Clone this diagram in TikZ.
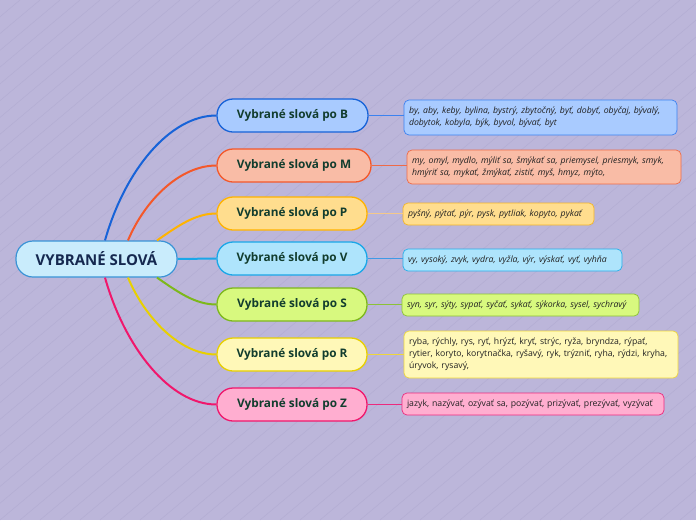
\documentclass[tikz,border=0pt]{standalone}
\usepackage{fontspec}
\setmainfont{Open Sans}
\begin{document}
\begin{tikzpicture}[x=1pt,y=-1pt,
  central/.style={draw=cBorder,fill=cFill,line width=1.2pt,rounded corners=17pt,
    minimum width=161pt,minimum height=36pt,inner sep=0pt,
    font=\fontsize{15}{18}\selectfont\bfseries,text=cText},
  branch/.style={line width=1.3pt,rounded corners=16pt,minimum height=33pt,inner sep=0pt,
    font=\fontsize{11.8}{14}\selectfont\bfseries,text=bText},
  leaf/.style={line width=0.7pt,rounded corners=5pt,inner xsep=5pt,inner ysep=0pt,
    align=left,text=lText},
  itf/.style={font=\fontsize{8.7}{12.2}\selectfont\itshape},
  upf/.style={font=\fontsize{8.7}{12.2}\selectfont},
  conn/.style={line width=2pt},
  lconn/.style={line width=1pt}
]
\definecolor{bg}{HTML}{BCB6DA}
\definecolor{hatch}{HTML}{B3ADD3}
\definecolor{cFill}{HTML}{C9ECFC}
\definecolor{cBorder}{HTML}{3A93D6}
\definecolor{cText}{HTML}{15284F}
\definecolor{bText}{HTML}{123D2E}
\definecolor{lText}{HTML}{222222}
\definecolor{bL}{HTML}{1763D8}\definecolor{bF}{HTML}{A9CBFF}\definecolor{bB}{HTML}{3C82F0}
\definecolor{mL}{HTML}{F4582A}\definecolor{mF}{HTML}{F9BCA6}\definecolor{mB}{HTML}{EE6A48}
\definecolor{pL}{HTML}{FFB300}\definecolor{pF}{HTML}{FFDD8E}\definecolor{pB}{HTML}{F2B52A}\definecolor{pC}{HTML}{F4C88A}
\definecolor{vL}{HTML}{1AA7E8}\definecolor{vF}{HTML}{AEE4FC}\definecolor{vB}{HTML}{25AEEA}\definecolor{vC}{HTML}{3F9AE6}
\definecolor{sL}{HTML}{7DB81B}\definecolor{sF}{HTML}{D8F97F}\definecolor{sB}{HTML}{8CC236}
\definecolor{rL}{HTML}{E8D000}\definecolor{rF}{HTML}{FFF8B8}\definecolor{rB}{HTML}{EED63A}
\definecolor{zL}{HTML}{F0176C}\definecolor{zF}{HTML}{FFAED0}\definecolor{zB}{HTML}{EC2A7E}

\useasboundingbox (0,0) rectangle (696,520);
\fill[bg] (0,0) rectangle (696,520);
\begin{scope}
\clip (0,0) rectangle (696,520);
\foreach \i in {-32,...,36} {
  \draw[hatch,line width=0.5pt] (\i*20,520) -- (\i*20+620,0);
}
\end{scope}

% central
\node[central] (c) at (96.5,259) {VYBRANÉ SLOVÁ};

% branches
\node[branch,draw=bL,fill=bF,minimum width=151pt] (b) at (292.5,115.5) {Vybrané slová po B};
\node[branch,draw=mL,fill=mF,minimum width=154pt] (m) at (294,165.5) {Vybrané slová po M};
\node[branch,draw=pL,fill=pF,minimum width=150pt] (p) at (292,213.5) {Vybrané slová po P};
\node[branch,draw=vL,fill=vF,minimum width=150pt] (v) at (292,258.5) {Vybrané slová po V};
\node[branch,draw=sL,fill=sF,minimum width=150pt] (s) at (292,304.5) {Vybrané slová po S};
\node[branch,draw=rL,fill=rF,minimum width=150pt] (r) at (292,354.5) {Vybrané slová po R};
\node[branch,draw=zL,fill=zF,minimum width=150pt] (z) at (292,404.5) {Vybrané slová po Z};

% leaves
\node[leaf,itf,draw=bB,fill=bF,text width=263pt,minimum height=35pt] (bl) at (540.5,117.5)
  {by, aby, keby, bylina, bystrý, zbytočný, byť, dobyť, obyčaj, bývalý,\\dobytok, kobyla, býk, byvol, bývať, byt};
\node[leaf,itf,draw=mB,fill=mF,text width=264pt,minimum height=34pt] (ml) at (544,167)
  {my, omyl, mydlo, mýliť sa, šmýkať sa, priemysel, priesmyk, smyk,\\hmýriť sa, mykať, žmýkať, zistiť, myš, hmyz, mýto,};
\node[leaf,itf,draw=pB,fill=pF,text width=181pt,minimum height=22pt] (pl) at (498.5,214)
  {pyšný, pýtať, pýr, pysk, pytliak, kopyto, pykať};
\node[leaf,itf,draw=vB,fill=vF,text width=209pt,minimum height=22pt] (vl) at (512.5,260)
  {vy, vysoký, zvyk, vydra, vyžla, výr, výskať, vyť, vyhňa};
\node[leaf,itf,draw=sB,fill=sF,text width=227pt,minimum height=22pt] (sl) at (520.5,305)
  {syn, syr, sýty, sypať, syčať, sykať, sýkorka, sysel, sychravý};
\node[leaf,upf,draw=rB,fill=rF,text width=264pt,minimum height=47pt] (rl) at (541,354.5)
  {ryba, rýchly, rys, ryť, hrýzť, kryť, strýc, ryža, bryndza, rýpať,\\rytier, koryto, korytnačka, ryšavý, ryk, trýzniť, ryha, rýdzi, kryha,\\úryvok, rysavý,};
\node[leaf,upf,draw=zB,fill=zF,text width=252pt,minimum height=22pt] (zl) at (533,404)
  {jazyk, nazývať, ozývať sa, pozývať, prizývať, prezývať, vyzývať};

% central -> branches
\draw[conn,bL] ([xshift=8.5pt]c.north) .. controls (125,170) and (170,115.5) .. (b.west);
\draw[conn,mL] ([xshift=31.5pt]c.north) .. controls (145,200) and (180,165.5) .. (m.west);
\draw[conn,pL] ([xshift=60.5pt]c.north) .. controls (178,226) and (195,213.5) .. (p.west);
\draw[conn,vL] (c.east) -- (v.west);
\draw[conn,sL] ([xshift=60.5pt]c.south) .. controls (178,292) and (195,304.5) .. (s.west);
\draw[conn,rL] ([xshift=31.5pt]c.south) .. controls (145,318) and (180,354.5) .. (r.west);
\draw[conn,zL] ([xshift=8.5pt]c.south) .. controls (125,348) and (170,404.5) .. (z.west);

% branches -> leaves
\draw[lconn,bB] (b.east) -- (b.east -| bl.west);
\draw[lconn,mB] (m.east) -- (m.east -| ml.west);
\draw[lconn,pC] (p.east) -- (p.east -| pl.west);
\draw[lconn,vC] (v.east) -- (v.east -| vl.west);
\draw[lconn,sB] (s.east) -- (s.east -| sl.west);
\draw[lconn,rB] (r.east) -- (r.east -| rl.west);
\draw[lconn,zB] (z.east) -- (z.east -| zl.west);
\end{tikzpicture}
\end{document}
